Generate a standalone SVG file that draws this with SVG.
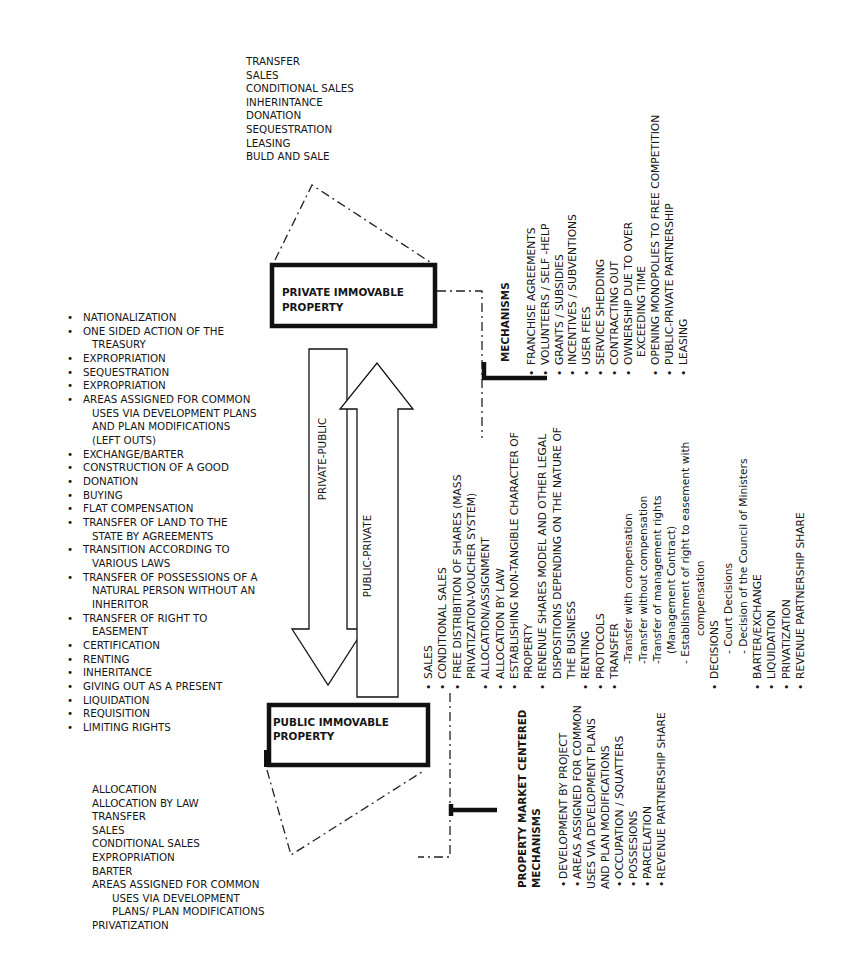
<svg xmlns="http://www.w3.org/2000/svg" width="850" height="973" viewBox="0 0 850 973">
<style>
text{font-family:"DejaVu Sans","Liberation Sans",sans-serif;fill:#161616}
.l{font-size:10.3px}
.r{font-size:10.7px}
.b{font-size:10.4px;font-weight:bold}
.box{fill:#fff;stroke:#111;stroke-width:4.5}
.dd{fill:none;stroke:#222;stroke-width:1.3;stroke-dasharray:9 4 2 4}
.thick{fill:none;stroke:#111;stroke-width:4.5}
.arrow{fill:#fff;stroke:#111;stroke-width:1.3}
</style>
<rect width="850" height="973" fill="#fff"/>

<g id="connectors">
  <polyline class="dd" points="275,260 312,185 430,262"/>
  <polyline class="dd" points="267,770 291,855 425,770"/>
  <polyline class="dd" points="437,291 482,291 482,438"/>
  <polyline class="dd" points="450,693 450,857 418,857"/>
  <polyline class="thick" points="484,362 484,378 547,378"/>
  <line class="thick" x1="450" y1="810" x2="497" y2="810"/>
  <line class="thick" x1="451" y1="804" x2="451" y2="816" stroke-width="3"/>
</g>

<g id="arrow-private-public">
  <polygon class="arrow" points="309,349 347,349 347,629 364,629 328,685 292,629 309,629"/>
  <text class="l" transform="translate(326,459) rotate(-90)" text-anchor="middle">PRIVATE-PUBLIC</text>
</g>
<g id="arrow-public-private">
  <polygon class="arrow" points="357,697 357,409 340,409 377,363 413,409 398,409 398,697"/>
  <text class="l" transform="translate(371,556) rotate(-90)" text-anchor="middle">PUBLIC-PRIVATE</text>
</g>

<g id="private-box">
  <rect class="box" x="272" y="265" width="163" height="61"/>
  <text class="b" x="282" y="296">PRIVATE IMMOVABLE</text>
  <text class="b" x="282" y="311">PROPERTY</text>
</g>

<g id="public-box">
  <rect class="box" x="269" y="705" width="159" height="60"/>
  <rect x="264" y="750" width="4" height="17" fill="#111"/>
  <text class="b" x="273" y="726">PUBLIC IMMOVABLE</text>
  <text class="b" x="273" y="740">PROPERTY</text>
</g>

<g id="private-transfers">
  <text class="l">
    <tspan x="246" y="65">TRANSFER</tspan>
    <tspan x="246" y="78.6">SALES</tspan>
    <tspan x="246" y="92.2">CONDITIONAL SALES</tspan>
    <tspan x="246" y="105.8">INHERINTANCE</tspan>
    <tspan x="246" y="119.4">DONATION</tspan>
    <tspan x="246" y="133">SEQUESTRATION</tspan>
    <tspan x="246" y="146.6">LEASING</tspan>
    <tspan x="246" y="160.2">BULD AND SALE</tspan>
  </text>
</g>

<g id="public-transfers">
  <text class="l">
    <tspan x="92" y="793">ALLOCATION</tspan>
    <tspan x="92" y="806.6">ALLOCATION BY LAW</tspan>
    <tspan x="92" y="820.2">TRANSFER</tspan>
    <tspan x="92" y="833.8">SALES</tspan>
    <tspan x="92" y="847.4">CONDITIONAL SALES</tspan>
    <tspan x="92" y="861">EXPROPRIATION</tspan>
    <tspan x="92" y="874.6">BARTER</tspan>
    <tspan x="92" y="888.2">AREAS ASSIGNED FOR COMMON</tspan>
    <tspan x="112" y="901.8">USES VIA DEVELOPMENT</tspan>
    <tspan x="112" y="915.4">PLANS/ PLAN MODIFICATIONS</tspan>
    <tspan x="92" y="929">PRIVATIZATION</tspan>
  </text>
</g>

<g id="private-public-list">
  <text class="l">
    <tspan x="67" y="321">•</tspan>
    <tspan x="67" y="334.67">•</tspan>
    <tspan x="67" y="362">•</tspan>
    <tspan x="67" y="375.67">•</tspan>
    <tspan x="67" y="389.33">•</tspan>
    <tspan x="67" y="403">•</tspan>
    <tspan x="67" y="457.67">•</tspan>
    <tspan x="67" y="471.33">•</tspan>
    <tspan x="67" y="485">•</tspan>
    <tspan x="67" y="498.67">•</tspan>
    <tspan x="67" y="512.33">•</tspan>
    <tspan x="67" y="526">•</tspan>
    <tspan x="67" y="553.33">•</tspan>
    <tspan x="67" y="580.67">•</tspan>
    <tspan x="67" y="621.67">•</tspan>
    <tspan x="67" y="649">•</tspan>
    <tspan x="67" y="662.67">•</tspan>
    <tspan x="67" y="676.33">•</tspan>
    <tspan x="67" y="690">•</tspan>
    <tspan x="67" y="703.67">•</tspan>
    <tspan x="67" y="717.33">•</tspan>
    <tspan x="67" y="731">•</tspan>
  </text>
  <text class="l">
    <tspan x="83" y="321">NATIONALIZATION</tspan>
    <tspan x="83" y="334.67">ONE SIDED ACTION OF THE</tspan>
    <tspan x="92" y="348.33">TREASURY</tspan>
    <tspan x="83" y="362">EXPROPRIATION</tspan>
    <tspan x="83" y="375.67">SEQUESTRATION</tspan>
    <tspan x="83" y="389.33">EXPROPRIATION</tspan>
    <tspan x="83" y="403">AREAS ASSIGNED FOR COMMON</tspan>
    <tspan x="92" y="416.67">USES VIA DEVELOPMENT PLANS</tspan>
    <tspan x="92" y="430.33">AND PLAN MODIFICATIONS</tspan>
    <tspan x="92" y="444">(LEFT OUTS)</tspan>
    <tspan x="83" y="457.67">EXCHANGE/BARTER</tspan>
    <tspan x="83" y="471.33">CONSTRUCTION OF A GOOD</tspan>
    <tspan x="83" y="485">DONATION</tspan>
    <tspan x="83" y="498.67">BUYING</tspan>
    <tspan x="83" y="512.33">FLAT COMPENSATION</tspan>
    <tspan x="83" y="526">TRANSFER OF LAND TO THE</tspan>
    <tspan x="92" y="539.67">STATE BY AGREEMENTS</tspan>
    <tspan x="83" y="553.33">TRANSITION ACCORDING TO</tspan>
    <tspan x="92" y="567">VARIOUS LAWS</tspan>
    <tspan x="83" y="580.67">TRANSFER OF POSSESSIONS OF A</tspan>
    <tspan x="92" y="594.33">NATURAL PERSON WITHOUT AN</tspan>
    <tspan x="92" y="608">INHERITOR</tspan>
    <tspan x="83" y="621.67">TRANSFER OF RIGHT TO</tspan>
    <tspan x="92" y="635.33">EASEMENT</tspan>
    <tspan x="83" y="649">CERTIFICATION</tspan>
    <tspan x="83" y="662.67">RENTING</tspan>
    <tspan x="83" y="676.33">INHERITANCE</tspan>
    <tspan x="83" y="690">GIVING OUT AS A PRESENT</tspan>
    <tspan x="83" y="703.67">LIQUIDATION</tspan>
    <tspan x="83" y="717.33">REQUISITION</tspan>
    <tspan x="83" y="731">LIMITING RIGHTS</tspan>
  </text>
</g>

<g id="mechanisms" transform="translate(535,376) rotate(-90)">
  <text class="b" x="14" y="-26">MECHANISMS</text>
  <text class="r">
    <tspan x="0" y="0">•</tspan>
    <tspan x="0" y="13.8">•</tspan>
    <tspan x="0" y="27.6">•</tspan>
    <tspan x="0" y="41.4">•</tspan>
    <tspan x="0" y="55.2">•</tspan>
    <tspan x="0" y="69">•</tspan>
    <tspan x="0" y="82.8">•</tspan>
    <tspan x="0" y="96.6">•</tspan>
    <tspan x="0" y="124.2">•</tspan>
    <tspan x="0" y="138">•</tspan>
    <tspan x="0" y="151.8">•</tspan>
  </text>
  <text class="r">
    <tspan x="11" y="0">FRANCHISE AGREEMENTS</tspan>
    <tspan x="11" y="13.8">VOLUNTEERS / SELF -HELP</tspan>
    <tspan x="11" y="27.6">GRANTS / SUBSIDIES</tspan>
    <tspan x="11" y="41.4">INCENTIVES / SUBVENTIONS</tspan>
    <tspan x="11" y="55.2">USER FEES</tspan>
    <tspan x="11" y="69">SERVICE SHEDDING</tspan>
    <tspan x="11" y="82.8">CONTRACTING OUT</tspan>
    <tspan x="11" y="96.6">OWNERSHIP DUE TO OVER</tspan>
    <tspan x="19" y="110.4">EXCEEDING TIME</tspan>
    <tspan x="11" y="124.2">OPENING MONOPOLIES TO FREE COMPETITION</tspan>
    <tspan x="11" y="138">PUBLIC-PRIVATE PARTNERSHIP</tspan>
    <tspan x="11" y="151.8">LEASING</tspan>
  </text>
</g>

<g id="public-private-list" transform="translate(432,690) rotate(-90)">
  <text class="r">
    <tspan x="0" y="0">•</tspan>
    <tspan x="0" y="14.3">•</tspan>
    <tspan x="0" y="28.6">•</tspan>
    <tspan x="0" y="57.2">•</tspan>
    <tspan x="0" y="71.5">•</tspan>
    <tspan x="0" y="85.8">•</tspan>
    <tspan x="0" y="114.4">•</tspan>
    <tspan x="0" y="157.3">•</tspan>
    <tspan x="0" y="171.6">•</tspan>
    <tspan x="0" y="185.9">•</tspan>
    <tspan x="0" y="286">•</tspan>
    <tspan x="0" y="328.9">•</tspan>
    <tspan x="0" y="343.2">•</tspan>
    <tspan x="0" y="357.5">•</tspan>
    <tspan x="0" y="371.8">•</tspan>
  </text>
  <text class="r">
    <tspan x="11" y="0">SALES</tspan>
    <tspan x="11" y="14.3">CONDITIONAL SALES</tspan>
    <tspan x="11" y="28.6">FREE DISTRIBITION OF SHARES (MASS</tspan>
    <tspan x="11" y="42.9">PRIVATIZATION-VOUCHER SYSTEM)</tspan>
    <tspan x="11" y="57.2">ALLOCATION/ASSIGNMENT</tspan>
    <tspan x="11" y="71.5">ALLOCATION BY LAW</tspan>
    <tspan x="11" y="85.8">ESTABLISHING NON-TANGIBLE CHARACTER OF</tspan>
    <tspan x="11" y="100.1">PROPERTY</tspan>
    <tspan x="11" y="114.4">RENENUE SHARES MODEL AND OTHER LEGAL</tspan>
    <tspan x="11" y="128.7">DISPOSITIONS DEPENDING ON THE NATURE OF</tspan>
    <tspan x="11" y="143">THE BUSINESS</tspan>
    <tspan x="11" y="157.3">RENTING</tspan>
    <tspan x="11" y="171.6">PROTOCOLS</tspan>
    <tspan x="11" y="185.9">TRANSFER</tspan>
    <tspan x="26" y="200.2">-Transfer with compensation</tspan>
    <tspan x="26" y="214.5">-Transfer without compensation</tspan>
    <tspan x="26" y="228.8">-Transfer of management rights</tspan>
    <tspan x="36" y="243.1">(Management Contract)</tspan>
    <tspan x="26" y="257.4">- Establishment of right to easement with</tspan>
    <tspan x="54" y="271.7">compensation</tspan>
    <tspan x="11" y="286">DECISIONS</tspan>
    <tspan x="36" y="300.3">- Court Decisions</tspan>
    <tspan x="36" y="314.6">- Decision of the Council of Ministers</tspan>
    <tspan x="11" y="328.9">BARTER/EXCHANGE</tspan>
    <tspan x="11" y="343.2">LIQUIDATION</tspan>
    <tspan x="11" y="357.5">PRIVATIZATION</tspan>
    <tspan x="11" y="371.8">REVENUE PARTNERSHIP SHARE</tspan>
  </text>
</g>

<g id="property-market-mechanisms" transform="translate(526,887) rotate(-90)">
  <text class="b" x="-1" y="0">PROPERTY MARKET CENTERED</text>
  <text class="b" x="-1" y="14">MECHANISMS</text>
  <text class="r">
    <tspan x="0" y="41">•</tspan>
    <tspan x="0" y="55">•</tspan>
    <tspan x="0" y="97">•</tspan>
    <tspan x="0" y="111">•</tspan>
    <tspan x="0" y="125">•</tspan>
    <tspan x="0" y="139">•</tspan>
  </text>
  <text class="r">
    <tspan x="8" y="41">DEVELOPMENT BY PROJECT</tspan>
    <tspan x="8" y="55">AREAS ASSIGNED FOR COMMON</tspan>
    <tspan x="-2" y="69">USES VIA DEVELOPMENT PLANS</tspan>
    <tspan x="-2" y="83">AND PLAN MODIFICATIONS</tspan>
    <tspan x="8" y="97">OCCUPATION / SQUATTERS</tspan>
    <tspan x="8" y="111">POSSESIONS</tspan>
    <tspan x="8" y="125">PARCELATION</tspan>
    <tspan x="8" y="139">REVENUE PARTNERSHIP SHARE</tspan>
  </text>
</g>
</svg>
